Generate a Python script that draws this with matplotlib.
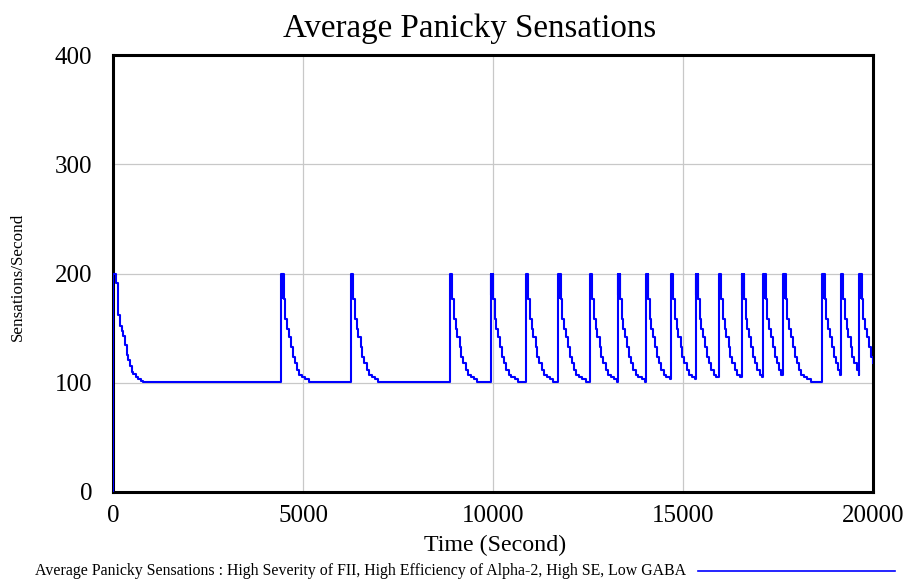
import numpy as np
import matplotlib.pyplot as plt
from matplotlib.lines import Line2D

plt.rcParams['font.family'] = ['Liberation Serif', 'DejaVu Serif']

# onset time of every panic spike (Second)
spike_times = [0, 4430, 6265, 8870, 9940, 10870, 11720, 12555, 13280, 14020,
               14685, 15335, 15945, 16545, 17115, 17640, 18665, 19160, 19640]

# stepwise decay of the first spike: seconds after onset, level
first_offsets = [0, 90, 140, 185, 230, 270, 315, 360, 405, 450, 490, 535, 605, 665, 730, 780]
first_levels = [200, 191, 162, 152, 147, 143, 135, 125, 121, 115, 110, 108, 105.5, 103.7, 102, 101]

# stepwise decay of the later spikes
spike_offsets = [0, 20, 30, 45, 55, 60, 105, 150, 192, 255, 297, 350, 413, 473, 544, 631, 718]
spike_levels = [200, 180, 200, 178, 200, 177, 158, 149, 142, 133, 124, 118, 112, 107, 105, 103, 101]

t_end = 20000
x_ticks = [0, 5000, 10000, 15000, 20000]
y_ticks = [0, 100, 200, 300, 400]

legend_text = ("Average Panicky Sensations : High Severity of FII, "
               "High Efficiency of Alpha-2, High SE, Low GABA")

# put the series together from the spike onsets
t = [0]
v = [0]
for i, t0 in enumerate(spike_times):
    if i == 0:
        offs, levs = first_offsets, first_levels
    else:
        offs, levs = spike_offsets, spike_levels
    t_next = spike_times[i + 1] if i + 1 < len(spike_times) else t_end
    for o, l in zip(offs, levs):
        if t0 + o < t_next:
            t.append(t0 + o)
            v.append(l)
t.append(t_end)
v.append(v[-1])

fig = plt.figure(figsize=(9.08, 5.82), dpi=100)
ax = fig.add_axes([113 / 908, 1 - 492 / 582, 760 / 908, 437 / 582])

ax.step(t, v, where='post', color='#0000ff', linewidth=1.5, zorder=3)

ax.set_xlim(0, t_end)
ax.set_ylim(0, 400)
ax.set_xticks(x_ticks)
ax.set_yticks(y_ticks)
ax.grid(color='#c8c8c8', linewidth=0.9, zorder=0)
ax.tick_params(length=0, labelsize=18)
ax.tick_params(axis='x', pad=9)
ax.tick_params(axis='y', pad=15)
for sp in ax.spines.values():
    sp.set_linewidth(2.2)
    sp.set_color('black')

fig.text(470 / 908, 1 - 37 / 582, "Average Panicky Sensations", fontsize=23.8,
         ha='center', va='baseline')
fig.text(495 / 908, 1 - 551 / 582, "Time (Second)", fontsize=17.3,
         ha='center', va='baseline')
fig.text(18 / 908, 1 - 277 / 582, "Sensations/Second", fontsize=12.3,
         rotation=90, ha='center', va='center')

# legend line at the bottom
fig.text(686 / 908, 1 - 571 / 582, legend_text, fontsize=11.4,
         ha='right', va='center')
fig.add_artist(Line2D([698 / 908, 895 / 908], [1 - 571 / 582, 1 - 571 / 582],
                      color='#0000ff', linewidth=1.2, transform=fig.transFigure))

fig.savefig('out.png', dpi=100)
